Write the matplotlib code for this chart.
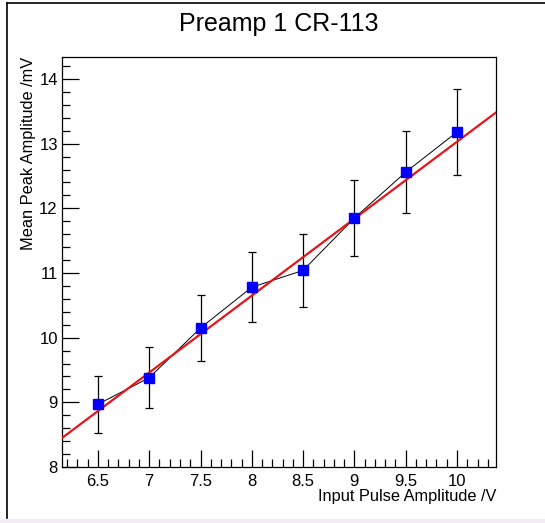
#!/usr/bin/env python3

##### Preamp 1 CR-113 linearity plot
import numpy as np
import matplotlib.pyplot as plt
from matplotlib.ticker import MultipleLocator
from matplotlib.patches import Rectangle

##### Data
input_amp = [6.5, 7.0, 7.5, 8.0, 8.5, 9.0, 9.5, 10.0]
peak_amp = [8.97, 9.38, 10.15, 10.78, 11.04, 11.85, 12.56, 13.18]
peak_err = [0.44, 0.47, 0.51, 0.54, 0.56, 0.59, 0.63, 0.66]

# linear fit parameters
fit_slope = 1.19
fit_intercept = 1.13

plt.rcParams['font.family'] = ['Liberation Sans', 'DejaVu Sans']

W, H = 545, 523
fig = plt.figure(figsize=(W / 100, H / 100), dpi=100)

##### Canvas frame and bottom strip
fig.patches.append(Rectangle((0, 0), 1, 4 / H, transform=fig.transFigure,
                             facecolor='#f4ecf7', edgecolor='none', zorder=0))
fig.add_artist(plt.Line2D([7 / W, 7 / W], [1 - 3 / H, 1 - 518 / H],
                          transform=fig.transFigure, color='black', lw=1.2))
fig.add_artist(plt.Line2D([7 / W, 1], [1 - 3 / H, 1 - 3 / H],
                          transform=fig.transFigure, color='black', lw=1.2))

##### Axes
ax_l, ax_r, ax_t, ax_b = 62, 496, 57, 467
ax = fig.add_axes([ax_l / W, 1 - ax_b / H, (ax_r - ax_l) / W, (ax_b - ax_t) / H])

ax.set_xlim(6.15, 10.38)
ax.set_ylim(8.0, 14.34)

##### Fit line
ax.axline((0, fit_intercept), slope=fit_slope, color='#e8141a', lw=1.6, zorder=3)

##### Data with error bars
ax.errorbar(input_amp, peak_amp, yerr=peak_err, fmt='none', ecolor='black',
            elinewidth=0.9, capsize=3, capthick=0.9, zorder=2)
ax.plot(input_amp, peak_amp, color='black', lw=0.7, zorder=2)
ax.plot(input_amp, peak_amp, linestyle='none', marker='s', markersize=7,
        markerfacecolor='#0000ff', markeredgecolor='#0000ff', zorder=4)

##### Ticks
ax.xaxis.set_major_locator(MultipleLocator(0.5))
ax.xaxis.set_minor_locator(MultipleLocator(0.1))
ax.yaxis.set_major_locator(MultipleLocator(1))
ax.yaxis.set_minor_locator(MultipleLocator(0.2))
ax.xaxis.set_major_formatter(plt.FuncFormatter(lambda v, p: '%g' % v))
ax.tick_params(which='major', direction='in', length=12, width=0.9,
               labelsize=12, pad=5)
ax.tick_params(which='minor', direction='in', length=6, width=0.9)
ax.tick_params(axis='y', which='major', pad=3)

for sp in ax.spines.values():
    sp.set_linewidth(0.9)

##### Labels
ax.set_title('Preamp 1 CR-113', fontsize=18, pad=19)
ax.set_xlabel('Input Pulse Amplitude /V', fontsize=11.8, loc='right', labelpad=0)
ax.set_ylabel('Mean Peak Amplitude /mV', fontsize=11.8, loc='top', labelpad=2)

fig.savefig('out.png', dpi=100)
